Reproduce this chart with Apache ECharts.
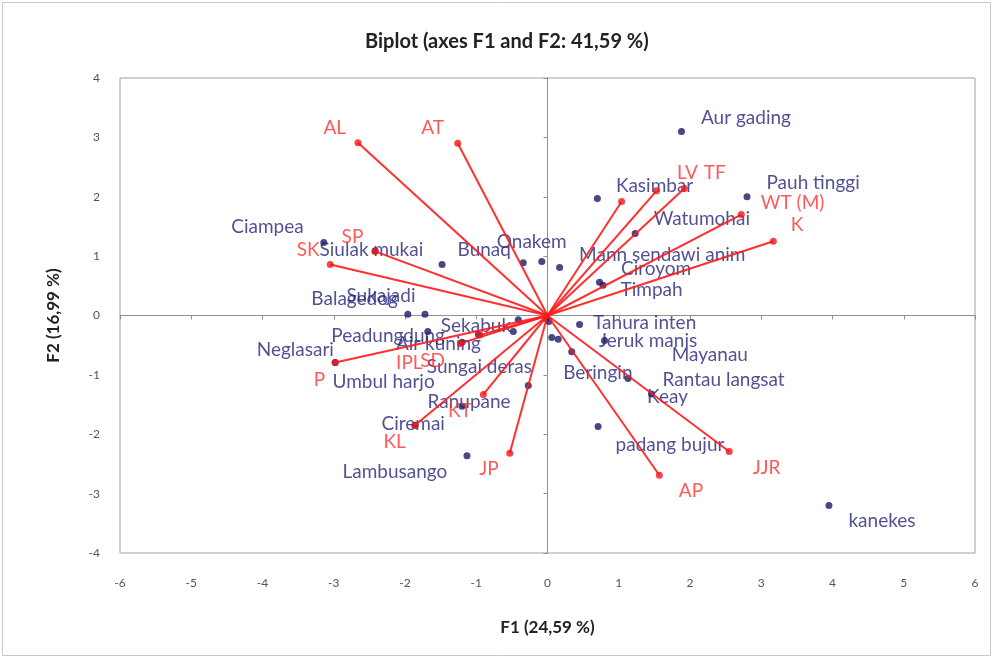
<!DOCTYPE html>
<html>
<head>
<meta charset="utf-8">
<script src="https://cdn.jsdelivr.net/npm/echarts@6/dist/echarts.min.js"></script>
<style>html,body{margin:0;padding:0;background:#fff}#c{width:995px;height:660px}</style>
</head>
<body>
<div id="c"></div>
<script>
// Observations (blue): name, F1, F2
const obsNames = ['Aur gading','Pauh tinggi','Kasimbar','Watumohai','Mann sendawi anim','Ciroyom','Timpah','Onakem','Bunaq','','Ciampea','Siulak mukai','Balagedog','Sukajadi','Peadungdung','Air kuning','Sekabuk','','Neglasari','Umbul harjo','Sungai deras','Ranupane','Ciremai','Lambusango','Tahura inten','Jeruk manis','Mayanau','Beringin','Rantau langsat','Keay','padang bujur','kanekes','','',''];
const obsF1 = [1.88,2.80,0.70,1.23,0.17,0.73,0.78,-0.34,-1.48,-0.08,-3.14,-2.42,-1.96,-1.72,-1.68,-0.97,-0.48,-0.41,-2.98,-1.20,-0.27,-1.20,-1.86,-1.13,0.45,0.80,0.15,0.34,1.13,1.46,0.71,3.95,0.06,-0.02,0.02];
const obsF2 = [3.10,2.00,1.97,1.38,0.81,0.56,0.51,0.89,0.86,0.91,1.23,1.09,0.02,0.02,-0.27,-0.32,-0.27,-0.07,-0.79,-0.45,-1.18,-1.53,-1.85,-2.36,-0.15,-0.42,-0.40,-0.61,-1.06,-1.32,-1.87,-3.20,-0.37,-0.05,-0.10];

// Variables (red vectors): name, F1, F2
const varNames = ['AL','AT','SP','SK','P','IPL','SD','KT','KL','JP','AP','JJR','K','WT (M)','TF','LV',''];
const varF1 = [-2.66,-1.26,-2.42,-3.05,-2.98,-1.22,-0.95,-0.90,-1.86,-0.53,1.57,2.55,3.17,2.72,1.92,1.53,1.04];
const varF2 = [2.91,2.90,1.08,0.86,-0.79,-0.47,-0.33,-1.33,-1.85,-2.32,-2.69,-2.29,1.25,1.70,2.14,2.10,1.92];

// Axis tick values
const xTicks = [-6,-5,-4,-3,-2,-1,0,1,2,3,4,5,6];
const yTicks = [-4,-3,-2,-1,0,1,2,3,4];

// Label layout (pixel offsets from the point, text left-aligned)
const obsLabelOffset = {
  'Aur gading':[16,-14],'Pauh tinggi':[16,-14],'Kasimbar':[15,-13],'Watumohai':[15,-15],
  'Mann sendawi anim':[16,-13],'Ciroyom':[18,-13],'Timpah':[14,5],'Onakem':[-30,-21],
  'Bunaq':[12,-15],'Ciampea':[-96,-16],'Siulak mukai':[-59,-1],'Balagedog':[-100,-15],
  'Sukajadi':[-82,-18],'Peadungdung':[-100,4],'Air kuning':[-86,9],'Sekabuk':[-76,-6],
  'Neglasari':[-82,-13],'Umbul harjo':[-133,40],'Sungai deras':[-105,-19],'Ranupane':[-38,-4],
  'Ciremai':[-37,-1],'Lambusango':[-128,16],'Tahura inten':[10,-2],'Jeruk manis':[-9,0],
  'Mayanau':[110,16],'Beringin':[-12,21],'Rantau langsat':[31,1],'Keay':[-8,3],
  'padang bujur':[14,18],'kanekes':[16,15]
};
const varLabelOffset = {
  'AL':[-38,-15],'AT':[-40,-15],'SP':[-37,-15],'SK':[-37,-15],'P':[-25,17],'IPL':[-68,19],
  'SD':[-63,26],'KT':[-39,16],'KL':[-35,17],'JP':[-34,16],'AP':[16,16],'JJR':[20,16],
  'K':[14,-16],'WT (M)':[16,-12],'TF':[16,-16],'LV':[17,-18]
};

const FONT = 'Lato, "Open Sans", sans-serif';
const BLUE_DOT = '#1a1a66';
const BLUE_TXT = '#252578';
const RED = '#ff1a1a';

const obsData = obsNames.map((n,i)=>({value:[obsF1[i],obsF2[i]], name:n}));
const varEnds = varNames.map((n,i)=>({value:[varF1[i],varF2[i]], name:n}));
const varLines = varNames.map((n,i)=>({coords:[[0,0],[varF1[i],varF2[i]]]}));

function layoutFor(names, offsets){
  return function(p){
    const o = offsets[names[p.dataIndex]] || [0,0];
    return {dx:o[0], dy:o[1], hideOverlap:false};
  };
}

const chart = echarts.init(document.getElementById('c'), null, {renderer:'canvas'});
chart.setOption({
  animation:false,
  backgroundColor:'#fff',
  title:{text:'Biplot (axes F1 and F2: 41,59 %)', left:360, top:27,
    textStyle:{fontFamily:FONT, fontSize:20, fontWeight:'bold', color:'#222'}},
  graphic:[{type:'rect', shape:{x:2.5,y:2.5,width:988,height:653}, style:{fill:'none', stroke:'#c8c8c8', lineWidth:1}, z:-1}],
  grid:{left:120, right:20, top:78, bottom:107, show:true, borderColor:'#a0a0a0', borderWidth:1},
  xAxis:[
    {type:'value', min:-6, max:6, interval:1, position:'bottom',
     axisLine:{show:false}, axisTick:{show:false}, splitLine:{show:false},
     axisLabel:{margin:24, color:'#555', fontSize:12, fontFamily:FONT,
       formatter:v=>xTicks.includes(v)?String(v):''},
     name:'F1 (24,59 %)', nameLocation:'middle', nameGap:66,
     nameTextStyle:{fontFamily:FONT, fontSize:17, fontWeight:'bold', color:'#222'}},
    {type:'value', min:-6, max:6, interval:1, position:'bottom',
     axisLine:{show:true, onZero:true, lineStyle:{color:'#909090', width:1}},
     axisTick:{show:true, length:4, lineStyle:{color:'#909090'}},
     axisLabel:{show:false}, splitLine:{show:false}}
  ],
  yAxis:[
    {type:'value', min:-4, max:4, interval:1, position:'left',
     axisLine:{show:false}, axisTick:{show:false}, splitLine:{show:false},
     axisLabel:{margin:20, color:'#555', fontSize:12, fontFamily:FONT,
       formatter:v=>yTicks.includes(v)?String(v):''},
     name:'F2 (16,99 %)', nameLocation:'middle', nameGap:58, nameRotate:90,
     nameTextStyle:{fontFamily:FONT, fontSize:17, fontWeight:'bold', color:'#222'}},
    {type:'value', min:-4, max:4, interval:1, position:'left',
     axisLine:{show:true, onZero:true, lineStyle:{color:'#909090', width:1}},
     axisTick:{show:true, length:4, lineStyle:{color:'#909090'}},
     axisLabel:{show:false}, splitLine:{show:false}}
  ],
  series:[
    {type:'scatter', xAxisIndex:0, yAxisIndex:0, data:obsData, symbolSize:7,
     itemStyle:{color:BLUE_DOT}, z:3,
     label:{show:true, position:'right', distance:0, formatter:'{b}', color:BLUE_TXT, fontSize:19, fontFamily:FONT, align:'left', verticalAlign:'middle'},
     labelLayout:layoutFor(obsNames, obsLabelOffset)},
    {type:'lines', coordinateSystem:'cartesian2d', xAxisIndex:0, yAxisIndex:0, data:varLines,
     lineStyle:{color:RED, width:2, opacity:0.9}, z:4, silent:true},
    {type:'scatter', xAxisIndex:0, yAxisIndex:0, data:varEnds, symbolSize:7,
     itemStyle:{color:'#f01818'}, z:5,
     label:{show:true, position:'right', distance:0, formatter:'{b}', color:'#ff3030', fontSize:19, fontFamily:FONT, align:'left', verticalAlign:'middle'},
     labelLayout:layoutFor(varNames, varLabelOffset)}
  ]
});
</script>
</body>
</html>
